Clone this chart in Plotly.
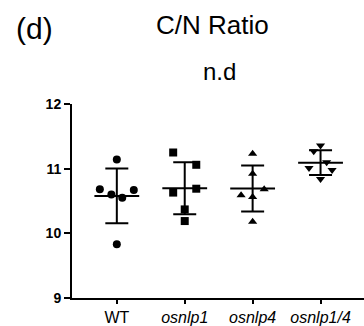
import numpy as np
import plotly.graph_objects as go

categories = ["WT", "<i>osnlp1</i>", "<i>osnlp4</i>", "<i>osnlp1/4</i>"]
wt = [11.14, 10.68, 10.60, 10.55, 10.67, 9.83]
osnlp1 = [11.25, 11.06, 10.63, 10.69, 10.37, 10.19]
osnlp4 = [11.23, 10.92, 10.59, 10.56, 10.68, 10.18]
osnlp14 = [11.36, 11.27, 11.10, 11.01, 10.98, 10.84]
jitter_wt = [0.0, -0.25, -0.08, 0.08, 0.25, 0.0]
jitter_1 = [-0.17, 0.17, -0.17, 0.17, 0.0, 0.0]
jitter_4 = [0.0, 0.0, -0.17, 0.0, 0.17, 0.0]
jitter_14 = [0.0, -0.1, 0.09, -0.17, 0.17, 0.0]
y_ticks = [9, 10, 11, 12]

groups = [wt, osnlp1, osnlp4, osnlp14]
jitters = [jitter_wt, jitter_1, jitter_4, jitter_14]
symbols = ["circle", "square", "triangle-up", "triangle-down"]

FONT = "Liberation Sans, Arial, sans-serif"
fig = go.Figure()

means = [float(np.mean(g)) for g in groups]
sds = [float(np.std(g, ddof=1)) for g in groups]

for i, (g, j, s) in enumerate(zip(groups, jitters, symbols)):
    fig.add_trace(go.Scatter(
        x=[i + d for d in j], y=g, mode="markers",
        marker=dict(symbol=s, size=8, color="black", line=dict(width=0)),
        showlegend=False, hoverinfo="skip"))

# mean lines
mx, my = [], []
for i, m in enumerate(means):
    mx += [i - 0.33, i + 0.33, None]
    my += [m, m, None]
fig.add_trace(go.Scatter(x=mx, y=my, mode="lines",
                         line=dict(color="black", width=2),
                         showlegend=False, hoverinfo="skip"))
# SD error bars
fig.add_trace(go.Scatter(
    x=list(range(len(means))), y=means, mode="markers",
    marker=dict(size=1, color="rgba(0,0,0,0)"),
    error_y=dict(type="data", array=sds, visible=True, width=11.5,
                 thickness=2, color="black"),
    showlegend=False, hoverinfo="skip"))

fig.update_layout(
    width=364, height=326,
    margin=dict(l=72, r=0, t=104, b=26),
    paper_bgcolor="white", plot_bgcolor="white",
    font=dict(family=FONT, color="black"),
    xaxis=dict(range=[-0.66, 3.64], tickmode="array",
               tickvals=list(range(len(categories))), ticktext=categories,
               showline=True, linewidth=2, linecolor="black",
               ticks="outside", ticklen=4, tickwidth=2, tickcolor="black",
               showgrid=False, zeroline=False,
               tickfont=dict(size=16, family=FONT, color="black")),
    yaxis=dict(range=[9, 12], tickmode="array", tickvals=y_ticks,
               ticktext=[str(v) for v in y_ticks],
               showline=True, linewidth=2, linecolor="black",
               ticks="outside", ticklen=6, tickwidth=2, tickcolor="black",
               showgrid=False, zeroline=False,
               tickfont=dict(size=14, family=FONT, color="black", weight="bold")),
    annotations=[
        dict(text="(d)", xref="paper", yref="paper", x=-0.130, y=1.39,
             xanchor="center", yanchor="middle", showarrow=False,
             font=dict(size=30, family=FONT, color="black")),
        dict(text="C/N Ratio", xref="paper", yref="paper", x=0.481, y=1.406,
             xanchor="center", yanchor="middle", showarrow=False,
             font=dict(size=26, family=FONT, color="black")),
        dict(text="n.d", xref="paper", yref="paper", x=0.505, y=1.166,
             xanchor="center", yanchor="middle", showarrow=False,
             font=dict(size=24, family=FONT, color="black")),
    ],
)

fig.write_html("out.html")
